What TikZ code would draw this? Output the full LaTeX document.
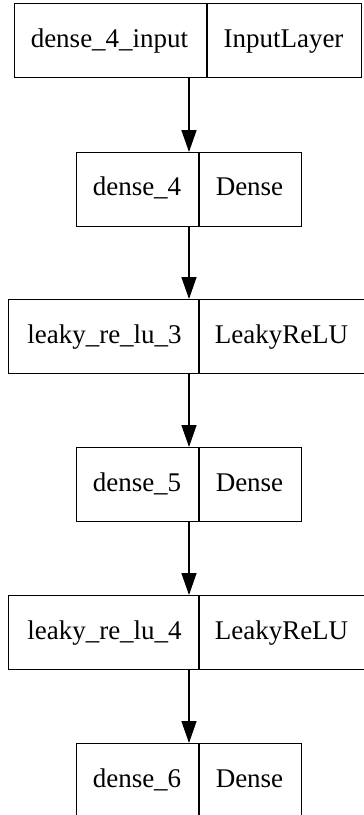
\documentclass[tikz,border=0pt]{standalone}
\usepackage{fontspec}
\setmainfont{Liberation Serif}
\usetikzlibrary{arrows.meta}
\begin{document}
\begin{tikzpicture}[x=1pt,y=-1pt,
  box/.style={draw=black,line width=1.4pt,rectangle,inner sep=0pt,anchor=north west,minimum height=73.5pt},
  wide/.style={box,minimum width=362pt},
  narrow/.style={box,minimum width=225pt},
  first/.style={box,minimum width=347pt},
  divline/.style={line width=1.4pt},
  lbl/.style={font=\fontsize{27}{32}\selectfont,inner sep=0pt,anchor=base},
  arr/.style={line width=1.4pt,-{Triangle[length=22pt,width=15pt]}}]
\useasboundingbox (0,0) rectangle (364,815);
\clip (0,0) rectangle (364,815);
\coordinate (axis) at (189,0);
\coordinate (dA) at (207,0);
\coordinate (dB) at (199,0);
% row 1
\node[first] (r1) at (14,3) {};
\draw[divline] (r1.north -| dA) -- (r1.south -| dA);
\node[lbl] (n1) at (109.5,47.5) {dense\_4\_input};
\node[lbl] (t1) at (283.5,47.5) {InputLayer};
% row 2
\node[narrow] (r2) at (76,152) {};
\draw[divline] (r2.north -| dB) -- (r2.south -| dB);
\node[lbl] (n2) at (137,195.5) {dense\_4};
\node[lbl] (t2) at (249.5,195.5) {Dense};
% row 3
\node[wide] (r3) at (8,299) {};
\draw[divline] (r3.north -| dB) -- (r3.south -| dB);
\node[lbl] (n3) at (104.5,343) {leaky\_re\_lu\_3};
\node[lbl] (t3) at (281.5,343) {LeakyReLU};
% row 4
\node[narrow] (r4) at (76,447) {};
\draw[divline] (r4.north -| dB) -- (r4.south -| dB);
\node[lbl] (n4) at (137,491) {dense\_5};
\node[lbl] (t4) at (249.5,491) {Dense};
% row 5
\node[wide] (r5) at (8,595) {};
\draw[divline] (r5.north -| dB) -- (r5.south -| dB);
\node[lbl] (n5) at (104.5,639) {leaky\_re\_lu\_4};
\node[lbl] (t5) at (281.5,639) {LeakyReLU};
% row 6
\node[narrow] (r6) at (76,743) {};
\draw[divline] (r6.north -| dB) -- (r6.south -| dB);
\node[lbl] (n6) at (137,787) {dense\_6};
\node[lbl] (t6) at (249.5,787) {Dense};
% arrows
\draw[arr] (r1.south -| axis) -- (r2.north -| axis);
\draw[arr] (r2.south -| axis) -- (r3.north -| axis);
\draw[arr] (r3.south -| axis) -- (r4.north -| axis);
\draw[arr] (r4.south -| axis) -- (r5.north -| axis);
\draw[arr] (r5.south -| axis) -- (r6.north -| axis);
\end{tikzpicture}
\end{document}
